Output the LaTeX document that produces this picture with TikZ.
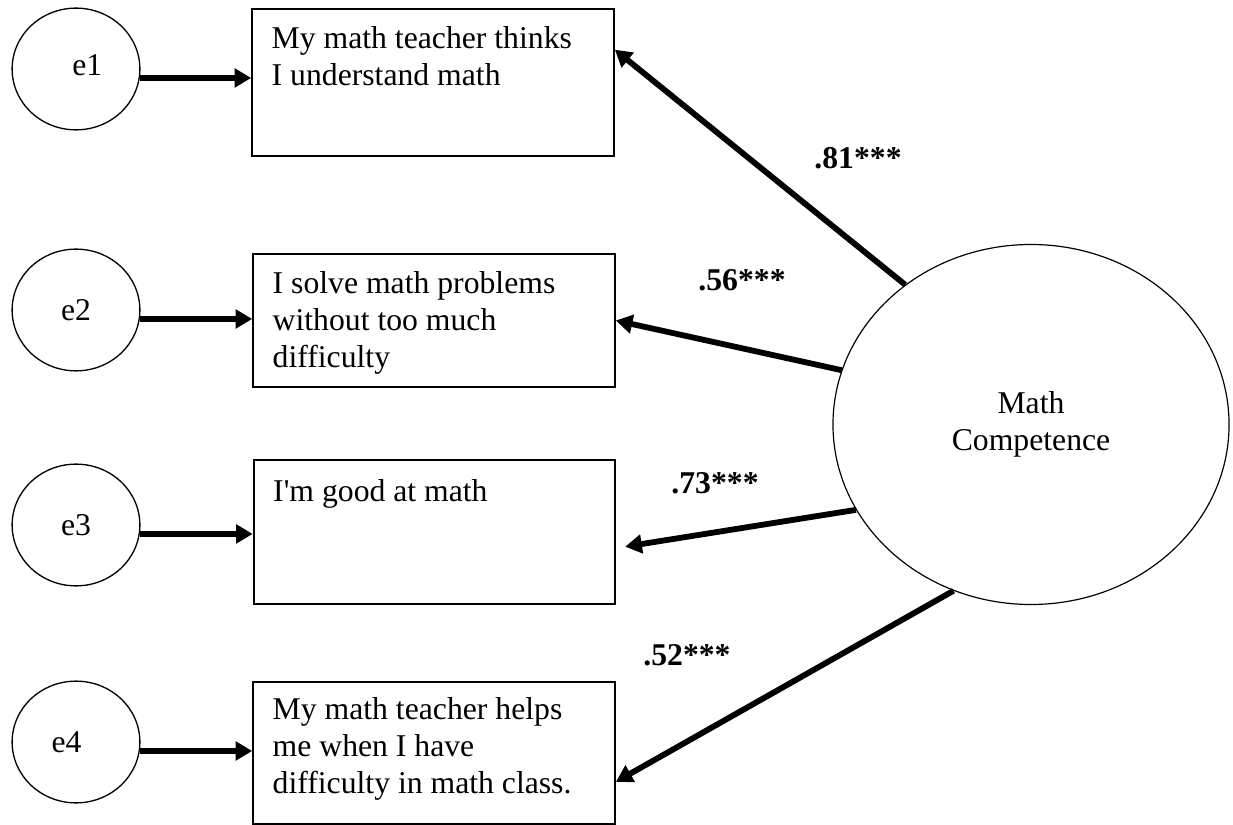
\documentclass[tikz,border=0pt]{standalone}
\usepackage{fontspec}
\setmainfont{Liberation Serif}
\usetikzlibrary{shapes.geometric, arrows.meta, calc}

\tikzset{
  errnode/.style={ellipse, draw, line width=0.5pt, minimum width=1.70cm, minimum height=1.62cm, inner sep=0pt},
  itembox/.style={draw, line width=0.8pt, minimum width=4.81cm, inner sep=0pt},
  itemtext/.style={anchor=north west, inner sep=0pt, align=left},
  latent/.style={ellipse, draw, line width=0.45pt, minimum width=5.27cm, minimum height=4.79cm, align=center},
  link/.style={line width=2.2pt, -{Triangle[length=6.3pt, width=7pt]}},
  coef/.style={font=\fontsize{12}{14}\selectfont\bfseries}
}

\begin{document}
\begin{tikzpicture}[x=0.0133cm, y=-0.0133cm, every node/.style={font=\fontsize{12}{14}\selectfont}]

\useasboundingbox (0,0) rectangle (1233,825);

% Error terms
\node[errnode] (e1) at (76,69) {\hspace*{0.3cm}\raisebox{0.1cm}{e1}};
\node[errnode] (e2) at (76,310) {e2};
\node[errnode] (e3) at (76,525) {e3};
\node[errnode] (e4) at (76,742) {\hspace*{-0.25cm}e4};

% Items
\node[itembox, minimum height=1.955cm] (b1) at (433,82.5) {};
\node[itemtext] (t1) at ($(b1.north west)+(20,18)$) {My math teacher thinks\\I understand math};
\node[itembox, minimum height=1.77cm] (b2) at (434,320.5) {};
\node[itemtext] (t2) at ($(b2.north west)+(20,18)$) {I solve math problems\\without too much\\difficulty};
\node[itembox, minimum height=1.915cm] (b3) at (434.5,532) {};
\node[itemtext] (t3) at ($(b3.north west)+(20,20)$) {I\textquotesingle m good at math};
\node[itembox, minimum height=1.89cm] (b4) at (434,753) {};
\node[itemtext] (t4) at ($(b4.north west)+(20,16)$) {My math teacher helps\\me when I have\\difficulty in math class.};

% Latent factor
\node[latent] (mc) at (1031,424.5) {Math\\Competence};

% Error paths
\draw[link] (e1.352) -- (e1.352 -| b1.west);
\draw[link] (e2.352) -- (e2.352 -| b2.west);
\draw[link] (e3.352) -- (e3.352 -| b3.west);
\draw[link] (e4.352) -- (e4.352 -| b4.west);

% Loadings
\draw[link] (mc.132) -- ($(b1.north east)!0.28!(b1.south east)$);
\draw[link] (mc.164) -- (b2.east);
\draw[link, shorten >=0.12cm] (mc.206) -- ($(b3.north east)!0.61!(b3.south east)$);
\draw[link] (mc.245) -- ($(b4.north east)!0.70!(b4.south east)$);

\node[coef] (l1) at (858,158) {.81***};
\node[coef] (l2) at (742,280) {.56***};
\node[coef] (l3) at (715,483) {.73***};
\node[coef] (l4) at (687,655) {.52***};

\end{tikzpicture}
\end{document}
